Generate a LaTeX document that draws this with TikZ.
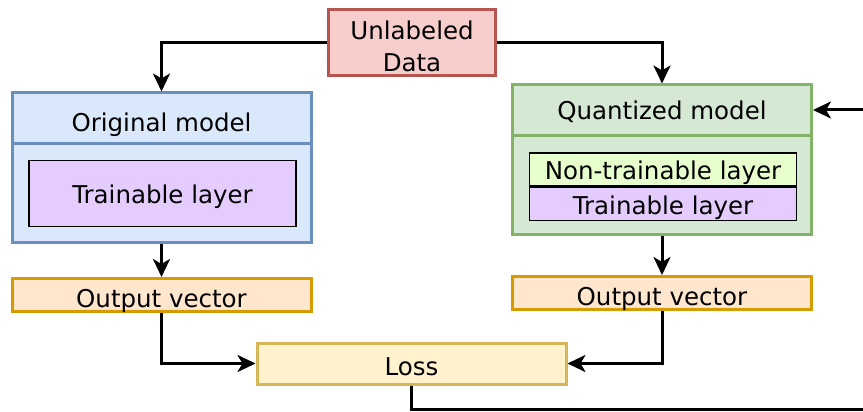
\documentclass[tikz,border=0pt]{standalone}
\usepackage{fontspec}
\setmainfont{DejaVu Sans}
\usetikzlibrary{arrows.meta}
\definecolor{redF}{HTML}{F8CECC}\definecolor{redS}{HTML}{B85450}
\definecolor{blueF}{HTML}{DAE8FC}\definecolor{blueS}{HTML}{6C8EBF}
\definecolor{greenF}{HTML}{D5E8D4}\definecolor{greenS}{HTML}{82B366}
\definecolor{purpF}{HTML}{E5CCFF}
\definecolor{limeF}{HTML}{E6FFCC}
\definecolor{orF}{HTML}{FFE6CC}\definecolor{orS}{HTML}{D79B00}
\definecolor{yeF}{HTML}{FFF2CC}\definecolor{yeS}{HTML}{D6B656}
\tikzset{
  txt/.style={font=\fontsize{24.5}{31.5}\selectfont, text height=24pt, text depth=0pt},
  box/.style={rectangle, inner sep=0pt, line width=3pt, txt},
  inner/.style={rectangle, inner sep=0pt, draw=black, line width=1.6pt, txt, text height=20.5pt},
  lbl/.style={inner sep=0pt, txt},
  arr/.style={line width=3pt, -{Stealth[length=18pt,width=17pt,inset=5pt]}},
}
\begin{document}
\begin{tikzpicture}[x=1pt,y=-1pt]
\useasboundingbox (0,0) rectangle (863,412);
% Unlabeled data
\node[box, draw=redS, fill=redF, minimum width=167pt, minimum height=66pt] (data) at (412,42.5) {};
\node[inner sep=0pt, align=center, font=\fontsize{24.5}{31.5}\selectfont] (dataT) at (412,49) {\strut Unlabeled\\\strut Data};
% Original model
\node[box, draw=blueS, fill=blueF, minimum width=299pt, minimum height=149pt] (orig) at (161.5,167.5) {};
\draw[blueS, line width=3pt] (orig.west |- 0,143) -- (orig.east |- 0,143);
\node[lbl] (origT) at (161.5,119.5) {Original model};
\node[inner, fill=purpF, minimum width=267pt, minimum height=66pt] (origL) at (162.5,193.5) {Trainable layer};
% Quantized model
\node[box, draw=greenS, fill=greenF, minimum width=299pt, minimum height=149pt] (quant) at (662,159.5) {};
\draw[greenS, line width=3pt] (quant.west |- 0,135) -- (quant.east |- 0,135);
\node[lbl] (quantT) at (662,108) {Quantized model};
\node[inner, fill=limeF, minimum width=267pt, minimum height=33pt] (nontr) at (663,169.5) {Non-trainable layer};
\node[inner, fill=purpF, minimum width=267pt, minimum height=33pt, anchor=north] (quantL) at (nontr.south) {Trainable layer};
% Output vectors
\node[box, draw=orS, fill=orF, minimum width=299pt, minimum height=33pt] (outL) at (161.5,295) {Output vector};
\node[box, draw=orS, fill=orF, minimum width=299pt, minimum height=33pt] (outR) at (662,293) {Output vector};
% Loss
\node[box, draw=yeS, fill=yeF, minimum width=309pt, minimum height=41pt] (loss) at (411.5,363.5) {Loss};
% Connectors
\coordinate (c1) at (867,409);
\coordinate (c2) at (867,110);
\draw[arr] (data.west) -| (orig.north);
\draw[arr] (data.east) -| (quant.north);
\draw[arr] (orig.south) -- (outL.north);
\draw[arr] (quant.south) -- (outR.north);
\draw[arr] (outL.south) |- (loss.west);
\draw[arr] (outR.south) |- (loss.east);
\draw[arr] (loss.south) |- (c1) -- (c2) -- (quant.east |- c2);
\end{tikzpicture}
\end{document}
